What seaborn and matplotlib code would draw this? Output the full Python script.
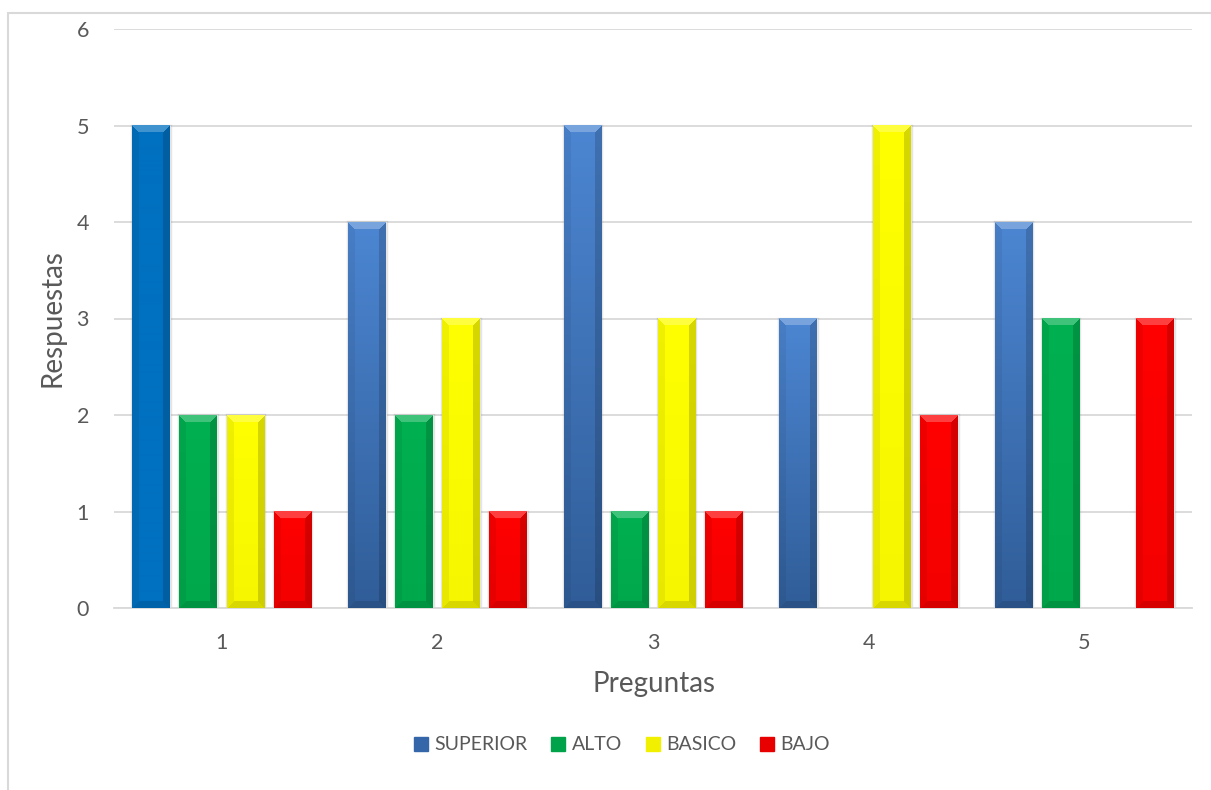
import numpy as np
import pandas as pd
import matplotlib
matplotlib.use("Agg")
import matplotlib.pyplot as plt
import seaborn as sns
from matplotlib.colors import to_rgb
from matplotlib.patches import Rectangle, Patch

# Data
preguntas = ["1", "2", "3", "4", "5"]
series = ["SUPERIOR", "ALTO", "BASICO", "BAJO"]
superior = [5, 4, 5, 3, 4]
alto = [2, 2, 1, 0, 3]
basico = [2, 3, 3, 5, 0]
bajo = [1, 1, 1, 2, 3]

df = pd.DataFrame({
    "Preguntas": preguntas * len(series),
    "Serie": np.repeat(series, len(preguntas)),
    "Respuestas": superior + alto + basico + bajo,
})

# Styling
palette = {"SUPERIOR": "#4a80c8", "ALTO": "#00B050", "BASICO": "#FFFF00", "BAJO": "#FF0000"}
face_top = {"SUPERIOR": "#4c86d2", "ALTO": "#00B050", "BASICO": "#FFFF00", "BAJO": "#FF0000"}
face_bot = {"SUPERIOR": "#305d98", "ALTO": "#00a84c", "BASICO": "#f6f600", "BAJO": "#f40000"}
first_superior = "#0070C0"
legend_colors = {"SUPERIOR": "#3666aa", "ALTO": "#00a24a", "BASICO": "#f0f000", "BAJO": "#e80000"}
text_color = "#595959"
grid_color = "#d9d9d9"

sns.set_theme(style="white")
plt.rcParams["font.family"] = ["Lato", "DejaVu Sans"]

W, H = 1211, 790
fig = plt.figure(figsize=(W / 100, H / 100), dpi=100)
ax = fig.add_axes([114 / W, 182 / H, 1078 / W, 579 / H])

sns.barplot(data=df, x="Preguntas", y="Respuestas", hue="Serie",
            order=preguntas, hue_order=series, palette=palette,
            width=0.872, gap=0.2, saturation=1, legend=False,
            errorbar=None, ax=ax, zorder=2)

ax.set_xlim(-0.5, 4.5)
ax.set_ylim(0, 6)
ax.set_yticks(range(7))
ax.grid(axis="y", color=grid_color, lw=1.3)
ax.grid(axis="x", visible=False)
ax.set_axisbelow(True)
for s in ("left", "right", "top"):
    ax.spines[s].set_visible(False)
ax.spines["bottom"].set_color(grid_color)
ax.spines["bottom"].set_linewidth(1.3)
ax.tick_params(length=0, labelsize=15.5, colors=text_color, pad=18)
ax.set_xlabel("")
ax.set_ylabel("")


def bevel_face(top, bot, w, h, b=7):
    """RGBA image of a bar with chamfered (bevelled) edges."""
    w = max(int(round(w)), 2)
    h = max(int(round(h)), 2)
    yy, xx = np.mgrid[0:h, 0:w] + 0.5
    t = (yy / h)[..., None]
    img = np.array(to_rgb(top)) * (1 - t) + np.array(to_rgb(bot)) * t
    d = np.stack([yy, xx, w - xx, h - yy])
    face = np.argmin(d, axis=0)
    inb = d.min(axis=0) < b
    top_m = inb & (face == 0)
    img[top_m] = img[top_m] + (1 - img[top_m]) * 0.25
    for idx, f in ((1, 0.94), (2, 0.84), (3, 0.88)):
        m = inb & (face == idx)
        img[m] = img[m] * f
    return np.dstack([np.clip(img, 0, 1), np.ones((h, w))])


fig.canvas.draw()
for level, container in zip(series, ax.containers):
    for i, rect in enumerate(container.patches):
        h = rect.get_height()
        if not h or h <= 0:
            continue
        x0, w = rect.get_x(), rect.get_width()
        p0 = ax.transData.transform((x0, 0))
        p1 = ax.transData.transform((x0 + w, h))
        if level == "SUPERIOR" and i == 0:
            top, bot = first_superior, first_superior
        else:
            top, bot = face_top[level], face_bot[level]
        img = bevel_face(top, bot, p1[0] - p0[0], p1[1] - p0[1])
        # soft shadow behind bar
        ax.add_patch(Rectangle((x0, 0), w, h, facecolor="none",
                               edgecolor=(0, 0, 0, 0.10), lw=2.5, zorder=2.5))
        ax.imshow(img, extent=[x0, x0 + w, 0, h], aspect="auto",
                  interpolation="bilinear", zorder=3)

ax.set_xlim(-0.5, 4.5)
ax.set_ylim(0, 6)
ax.set_aspect("auto")

fig.text(52 / W, 1 - 318 / H, "Respuestas", rotation=90, ha="center", va="center",
         fontsize=20, color=text_color)
fig.text(654 / W, 1 - 684 / H, "Preguntas", ha="center", va="center",
         fontsize=20, color=text_color)

handles = [Patch(facecolor=legend_colors[s], edgecolor=legend_colors[s]) for s in series]
fig.legend(handles, series, loc="center", bbox_to_anchor=(622 / W, 45 / H), ncol=4,
           frameon=False, fontsize=14, handlelength=0.72, handleheight=0.72,
           handletextpad=0.35, columnspacing=1.2, labelcolor=text_color)

# chart area border
fig.add_artist(Rectangle((8 / W, -0.05), 1.2, (H - 13) / H + 0.05,
                         transform=fig.transFigure, fill=False,
                         edgecolor=grid_color, lw=1.5))

fig.savefig("out.png", dpi=100)
